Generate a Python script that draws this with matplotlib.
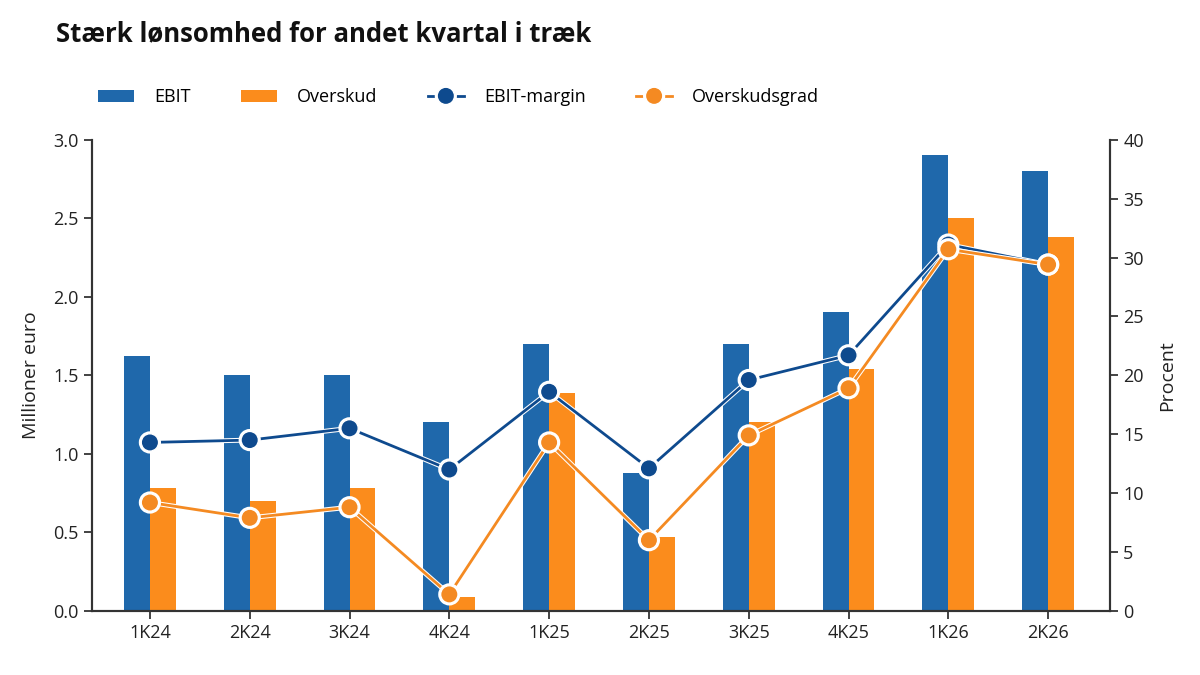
import numpy as np
import matplotlib.pyplot as plt
import matplotlib.patheffects as pe

plt.rcParams['font.family'] = ['Open Sans', 'DejaVu Sans']

quarters = ['1K24', '2K24', '3K24', '4K24', '1K25', '2K25', '3K25', '4K25', '1K26', '2K26']
ebit = [1.62, 1.50, 1.50, 1.20, 1.70, 0.88, 1.70, 1.90, 2.90, 2.80]
overskud = [0.78, 0.70, 0.78, 0.09, 1.39, 0.47, 1.20, 1.54, 2.50, 2.38]
ebit_margin = [14.3, 14.5, 15.5, 12.0, 18.6, 12.1, 19.6, 21.7, 31.1, 29.4]
overskudsgrad = [9.2, 7.9, 8.8, 1.4, 14.3, 6.0, 14.9, 18.9, 30.7, 29.4]

c_bar_blue = '#1f68ab'
c_bar_orange = '#fb8c1c'
c_line_blue = '#0e4a8e'
c_line_orange = '#f48a22'

x = np.arange(len(quarters))
w = 0.26

fig = plt.figure(figsize=(12, 6.75), dpi=100)
ax = fig.add_axes([0.0767, 0.095, 0.8483, 0.698])
ax2 = ax.twinx()

b1 = ax.bar(x - w / 2, ebit, w, color=c_bar_blue, label='EBIT')
b2 = ax.bar(x + w / 2, overskud, w, color=c_bar_orange, label='Overskud')

# white halo around the lines
outline = [pe.Stroke(linewidth=3.5, foreground='white'), pe.Normal()]
l1, = ax2.plot(x, ebit_margin, color=c_line_blue, lw=2, marker='o', ms=12.5,
               mfc=c_line_blue, mec='white', mew=1.0, path_effects=outline, label='EBIT-margin')
l2, = ax2.plot(x, overskudsgrad, color=c_line_orange, lw=2, marker='o', ms=12.5,
               mfc=c_line_orange, mec='white', mew=1.0, path_effects=outline, label='Overskudsgrad')

ax.set_xlim(-0.58, 9.62)
ax.set_ylim(0, 3.0)
ax2.set_ylim(0, 40)
ax.set_yticks(np.arange(0, 3.01, 0.5))
ax.set_yticklabels([f'{v:.1f}' for v in np.arange(0, 3.01, 0.5)])
ax2.set_yticks(range(0, 41, 5))
ax.set_xticks(x)
ax.set_xticklabels(quarters)

for a in (ax, ax2):
    a.spines['top'].set_visible(False)
    for s in ('left', 'right', 'bottom'):
        a.spines[s].set_color('#333333')
        a.spines[s].set_linewidth(1.5)
    a.tick_params(labelsize=13, colors='#222222', width=1.2, length=6)

ax.set_ylabel('Millioner euro', fontsize=14, color='#222222', labelpad=10)
ax2.set_ylabel('Procent', fontsize=14, color='#222222', labelpad=10)

fig.text(0.047, 0.95, 'Stærk lønsomhed for andet kvartal i træk', fontsize=18.5,
         fontweight='bold', va='center', color='#111111')

fig.legend([b1, b2, l1, l2], ['EBIT', 'Overskud', 'EBIT-margin', 'Overskudsgrad'],
           loc='center left', bbox_to_anchor=(0.068, 0.856), ncol=4, frameon=False,
           fontsize=13, handlelength=2.0, columnspacing=2.8, handletextpad=1.1)

fig.savefig('out.png', dpi=100)
